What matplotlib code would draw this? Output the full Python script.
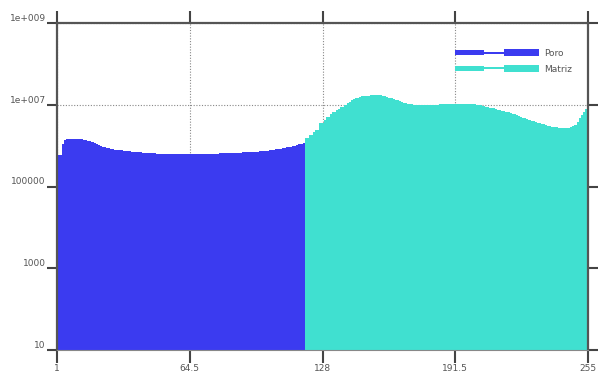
import numpy as np
import matplotlib
matplotlib.use("Agg")
import matplotlib.pyplot as plt
from matplotlib.legend_handler import HandlerBase
from matplotlib.patches import Rectangle

# histogram bins (grey level 1..255)
poro_bins = list(range(1, 120))
poro_counts = [
    1.6e5, 5.9e5, 5.9e5, 1.1e6, 1.35e6, 1.45e6, 1.45e6, 1.45e6, 1.45e6, 1.45e6,
    1.45e6, 1.43e6, 1.42e6, 1.39e6, 1.36e6, 1.33e6, 1.3e6, 1.24e6, 1.18e6, 1.12e6,
    1.04e6, 9.8e5, 9.3e5, 9.0e5, 8.8e5, 8.6e5, 8.4e5, 8.2e5, 8.0e5, 7.9e5,
    7.7e5, 7.6e5, 7.5e5, 7.4e5, 7.3e5, 7.2e5, 7.1e5, 7.0e5, 6.9e5, 6.85e5,
    6.8e5, 6.7e5, 6.65e5, 6.6e5, 6.55e5, 6.5e5, 6.5e5, 6.45e5, 6.4e5, 6.4e5,
    6.35e5, 6.35e5, 6.3e5, 6.3e5, 6.3e5, 6.3e5, 6.3e5, 6.3e5, 6.3e5, 6.3e5,
    6.3e5, 6.3e5, 6.3e5, 6.3e5, 6.3e5, 6.3e5, 6.3e5, 6.3e5, 6.3e5, 6.3e5,
    6.3e5, 6.3e5, 6.3e5, 6.3e5, 6.35e5, 6.35e5, 6.4e5, 6.4e5, 6.45e5, 6.45e5,
    6.5e5, 6.5e5, 6.55e5, 6.55e5, 6.6e5, 6.6e5, 6.6e5, 6.7e5, 6.75e5, 6.8e5,
    6.85e5, 6.9e5, 6.95e5, 7.0e5, 7.05e5, 7.1e5, 7.15e5, 7.2e5, 7.3e5, 7.35e5,
    7.4e5, 7.4e5, 7.6e5, 7.8e5, 7.9e5, 8.1e5, 8.3e5, 8.4e5, 8.6e5, 8.7e5,
    9.0e5, 9.3e5, 9.5e5, 9.8e5, 1.0e6, 1.03e6, 1.07e6, 1.12e6, 1.16e6,
]

matriz_bins = list(range(120, 256))
matriz_counts = [
    1.54e6, 1.54e6, 1.82e6, 1.82e6, 2.1e6, 2.4e6, 2.4e6, 3.57e6, 3.57e6, 4.3e6,
    5.0e6, 5.0e6, 5.8e6, 6.6e6, 6.6e6, 7.3e6, 8.0e6, 8.8e6, 8.8e6, 1.0e7,
    1.1e7, 1.2e7, 1.3e7, 1.38e7, 1.46e7, 1.5e7, 1.55e7, 1.6e7, 1.64e7, 1.66e7,
    1.68e7, 1.7e7, 1.72e7, 1.73e7, 1.73e7, 1.72e7, 1.7e7, 1.64e7, 1.6e7, 1.55e7,
    1.5e7, 1.44e7, 1.38e7, 1.33e7, 1.28e7, 1.23e7, 1.18e7, 1.13e7, 1.1e7, 1.07e7,
    1.05e7, 1.03e7, 1.01e7, 1.0e7, 9.9e6, 9.9e6, 9.8e6, 9.8e6, 9.8e6, 9.9e6,
    9.9e6, 9.9e6, 1.0e7, 1.01e7, 1.02e7, 1.03e7, 1.04e7, 1.05e7, 1.05e7, 1.06e7,
    1.06e7, 1.06e7, 1.06e7, 1.06e7, 1.06e7, 1.05e7, 1.05e7, 1.05e7, 1.04e7, 1.04e7,
    1.03e7, 1.02e7, 1.0e7, 9.8e6, 9.6e6, 9.3e6, 9.0e6, 8.8e6, 8.5e6, 8.3e6,
    8.1e6, 7.9e6, 7.6e6, 7.4e6, 7.2e6, 7.0e6, 6.8e6, 6.6e6, 6.3e6, 6.0e6,
    5.8e6, 5.5e6, 5.3e6, 5.0e6, 4.8e6, 4.7e6, 4.5e6, 4.3e6, 4.1e6, 3.9e6,
    3.7e6, 3.6e6, 3.5e6, 3.4e6, 3.3e6, 3.2e6, 3.1e6, 3.0e6, 2.9e6, 2.85e6,
    2.8e6, 2.75e6, 2.7e6, 2.7e6, 2.7e6, 2.7e6, 2.7e6, 2.8e6, 2.95e6, 3.2e6,
    3.8e6, 4.7e6, 5.6e6, 6.6e6, 7.9e6, 8.5e6,
]

xticks = [1, 64.5, 128, 191.5, 255]
xtick_labels = ["1", "64.5", "128", "191.5", "255"]
yticks = [10, 1000, 1e5, 1e7, 1e9]
ytick_labels = ["10", "1000", "100000", "1e+007", "1e+009"]

blue = "#3b3bf0"
cyan = "#40e0d0"
axis_col = "#555555"
text_col = "#555555"


class StepHandler(HandlerBase):
    # thick - thin - thicker block, like the original legend key
    def create_artists(self, legend, orig_handle, xdescent, ydescent,
                       width, height, fontsize, trans):
        c = orig_handle.get_facecolor()
        yc = height / 2 - ydescent
        x0 = -xdescent
        parts = [
            (0.0, 0.353, 3.3),
            (0.35, 0.24, 1.3),
            (0.588, 0.412, 5.5),
        ]
        arts = []
        for start, frac, h in parts:
            r = Rectangle((x0 + width * start, yc - h / 2), width * frac, h,
                          facecolor=c, edgecolor="none", transform=trans)
            arts.append(r)
        return arts


fig = plt.figure(figsize=(5.99, 3.76), dpi=100)
ax = fig.add_axes([57 / 599, 26 / 376, 531 / 599, 327 / 376])

ax.set_yscale("log")
ax.set_xlim(1, 255)
ax.set_ylim(10, 1e9)

ax.grid(True, which="major", ls=(0, (1, 1.5)), lw=0.8, color="#888888")
ax.set_axisbelow(True)

b1 = ax.bar(poro_bins, poro_counts, width=1.0, bottom=1, color=blue,
            linewidth=0, antialiased=False, zorder=2)
b2 = ax.bar(matriz_bins, matriz_counts, width=1.0, bottom=1, color=cyan,
            linewidth=0, antialiased=False, zorder=2)

ax.set_xticks(xticks)
ax.set_xticklabels(xtick_labels)
ax.set_yticks(yticks)
ax.set_yticklabels(ytick_labels)
ax.minorticks_off()

ax.tick_params(axis="x", which="major", direction="out", length=9, width=1.5,
               color="#444444", labelsize=6.5, labelcolor=text_col, pad=1,
               top=True)
ax.tick_params(axis="y", which="major", direction="out", length=7, width=1.5,
               color="#444444", labelsize=6.5, labelcolor=text_col, pad=1,
               right=True)
for lab in ax.get_yticklabels():
    lab.set_verticalalignment("bottom")

for side in ["left", "top", "right"]:
    ax.spines[side].set_color(axis_col)
    ax.spines[side].set_linewidth(1.6)
ax.spines["bottom"].set_color("#888888")
ax.spines["bottom"].set_linewidth(0.8)

leg = ax.legend([b1.patches[0], b2.patches[0]], ["Poro", "Matriz"],
                handler_map={Rectangle: StepHandler()},
                loc="upper right", bbox_to_anchor=(0.985, 0.946),
                frameon=False, fontsize=6.5, handlelength=9.4,
                handletextpad=0.5, labelspacing=0.75)
for t in leg.get_texts():
    t.set_color(text_col)

fig.savefig("out.png", dpi=100, facecolor="white")
